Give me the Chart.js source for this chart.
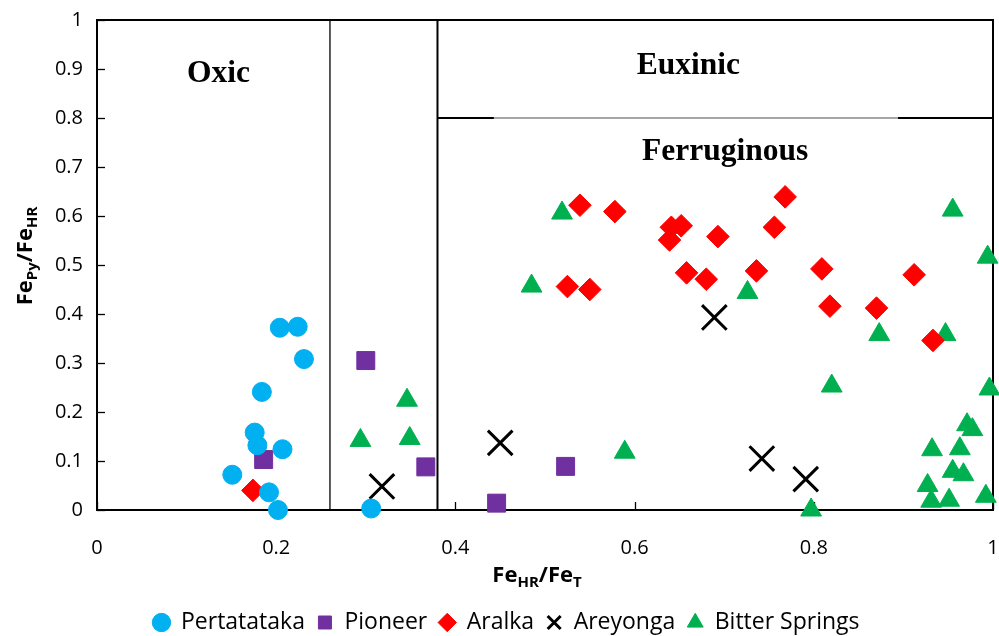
<!DOCTYPE html>
<html><head><meta charset="utf-8">
<script src="https://cdn.jsdelivr.net/npm/chart.js@4.4.1/dist/chart.umd.min.js"></script>
<style>html,body{margin:0;padding:0;background:#fff;}#wrap{width:999px;height:636px;}</style>
</head><body><div id="wrap"><canvas id="c" width="999" height="636"></canvas></div>
<script>
// ---- data ----
const seriesNames = ['Pertatataka', 'Pioneer', 'Aralka', 'Areyonga', 'Bitter Springs'];

const pertatatakaX = [0.204, 0.224, 0.231, 0.184, 0.176, 0.179, 0.207, 0.151, 0.192, 0.202, 0.306];
const pertatatakaY = [0.372, 0.374, 0.308, 0.241, 0.158, 0.132, 0.124, 0.072, 0.036, 0.000, 0.003];

const pioneerX = [0.300, 0.186, 0.367, 0.523, 0.446];
const pioneerY = [0.305, 0.103, 0.088, 0.089, 0.014];

const aralkaX = [0.174, 0.539, 0.578, 0.641, 0.652, 0.639, 0.693, 0.658, 0.680, 0.525, 0.550, 0.768, 0.756, 0.736, 0.809, 0.912, 0.818, 0.870, 0.933];
const aralkaY = [0.040, 0.622, 0.609, 0.577, 0.580, 0.551, 0.558, 0.484, 0.471, 0.456, 0.450, 0.639, 0.577, 0.488, 0.492, 0.480, 0.416, 0.412, 0.346];

const areyongaX = [0.318, 0.450, 0.689, 0.742, 0.791];
const areyongaY = [0.048, 0.137, 0.393, 0.105, 0.063];

const bitterX = [0.346, 0.294, 0.349, 0.519, 0.485, 0.589, 0.726, 0.955, 0.994, 0.873, 0.947, 0.820, 0.996, 0.971, 0.977, 0.963, 0.932, 0.955, 0.967, 0.927, 0.931, 0.951, 0.992, 0.797];
const bitterY = [0.224, 0.142, 0.146, 0.606, 0.457, 0.118, 0.444, 0.612, 0.516, 0.358, 0.358, 0.253, 0.247, 0.174, 0.164, 0.125, 0.123, 0.079, 0.072, 0.050, 0.018, 0.020, 0.028, 0.000];

const xTickValues = [0, 0.2, 0.4, 0.6, 0.8, 1];
const yTickValues = [0, 0.1, 0.2, 0.3, 0.4, 0.5, 0.6, 0.7, 0.8, 0.9, 1];
const xTickLabels = ['0', '0.2', '0.4', '0.6', '0.8', '1'];
const yTickLabels = ['0', '0.1', '0.2', '0.3', '0.4', '0.5', '0.6', '0.7', '0.8', '0.9', '1'];

// region thresholds (data units)
const oxicLimit = 0.26;
const anoxicLimit = 0.38;
const euxinicLimit = 0.8;
const regionNames = ['Oxic', 'Euxinic', 'Ferruginous'];

const xTitleParts = ['Fe', 'HR', '/Fe', 'T'];
const yTitleParts = ['Fe', 'Py', '/Fe', 'HR'];

// ---- build ----
function pts(xs, ys) { return xs.map((x, i) => ({x: x, y: ys[i]})); }

const FONT = "'Open Sans', sans-serif";
const regionLabelPos = [[0.1355, 0.873], [0.660, 0.890], [0.701, 0.714]];

function drawSubText(ctx, parts, cx, baseline) {
  const mainFont = 'bold 22px ' + FONT;
  const subFont = 'bold 15px ' + FONT;
  let total = 0;
  const widths = parts.map((p, i) => {
    ctx.font = (i % 2 === 1) ? subFont : mainFont;
    const w = ctx.measureText(p).width;
    total += w;
    return w;
  });
  let x = cx - total / 2;
  ctx.textAlign = 'left';
  ctx.textBaseline = 'alphabetic';
  parts.forEach((p, i) => {
    const sub = i % 2 === 1;
    ctx.font = sub ? subFont : mainFont;
    ctx.fillText(p, x, baseline + (sub ? 5 : 0));
    x += widths[i];
  });
}

const decorPlugin = {
  id: 'decor',
  beforeDatasetsDraw(chart) {
    const {ctx, chartArea: a, scales: {x, y}} = chart;
    ctx.save();
    ctx.strokeStyle = '#000';
    ctx.lineCap = 'butt';
    // frame top and right
    ctx.lineWidth = 2;
    ctx.beginPath();
    ctx.moveTo(a.left, a.top); ctx.lineTo(a.right, a.top); ctx.lineTo(a.right, a.bottom);
    ctx.stroke();
    // oxic boundary
    const xo = x.getPixelForValue(oxicLimit);
    ctx.lineWidth = 1.3;
    ctx.beginPath(); ctx.moveTo(xo, a.bottom); ctx.lineTo(xo, a.top); ctx.stroke();
    // anoxic boundary
    const xa = x.getPixelForValue(anoxicLimit);
    ctx.lineWidth = 2;
    ctx.beginPath(); ctx.moveTo(xa, a.bottom); ctx.lineTo(xa, a.top); ctx.stroke();
    // euxinic boundary
    const ye = y.getPixelForValue(euxinicLimit);
    const g1 = x.getPixelForValue(0.443), g2 = x.getPixelForValue(0.894);
    ctx.lineWidth = 2;
    ctx.beginPath(); ctx.moveTo(xa, ye); ctx.lineTo(g1, ye); ctx.stroke();
    ctx.beginPath(); ctx.moveTo(g2, ye); ctx.lineTo(a.right, ye); ctx.stroke();
    ctx.strokeStyle = '#a6a6a6';
    ctx.beginPath(); ctx.moveTo(g1, ye); ctx.lineTo(g2, ye); ctx.stroke();
    // inward tick marks
    ctx.strokeStyle = '#000';
    ctx.lineWidth = 1.3;
    yTickValues.forEach(v => {
      const py = Math.round(y.getPixelForValue(v)) + 0.5;
      ctx.beginPath(); ctx.moveTo(a.left, py); ctx.lineTo(a.left + 8, py); ctx.stroke();
    });
    xTickValues.forEach(v => {
      const px = Math.round(x.getPixelForValue(v)) + 0.5;
      ctx.beginPath(); ctx.moveTo(px, a.bottom); ctx.lineTo(px, a.bottom - 8); ctx.stroke();
    });
    // region labels
    ctx.fillStyle = '#000';
    ctx.font = "bold 31.5px 'Liberation Serif', 'Times New Roman', serif";
    ctx.textAlign = 'center';
    ctx.textBaseline = 'alphabetic';
    regionNames.forEach((n, i) => {
      ctx.fillText(n, x.getPixelForValue(regionLabelPos[i][0]), y.getPixelForValue(regionLabelPos[i][1]));
    });
    ctx.restore();
  },
  afterDraw(chart) {
    const {ctx, chartArea: a} = chart;
    ctx.save();
    ctx.fillStyle = '#000';
    drawSubText(ctx, xTitleParts, (a.left + a.right) / 2 - 8, a.bottom + 72);
    ctx.translate(32, (a.top + a.bottom) / 2 - 9);
    ctx.rotate(-Math.PI / 2);
    drawSubText(ctx, yTitleParts, 0, 0);
    ctx.restore();
  }
};

const colors = ['#00B0F0', '#7030A0', '#FF0000', '#000000', '#00B050'];
const styles = ['circle', 'rect', 'rectRot', 'crossRot', 'triangle'];
const radii = [9.5, 12.7, 11.3, 17.4, 12];
const dataSets = [pts(pertatatakaX, pertatatakaY), pts(pioneerX, pioneerY), pts(aralkaX, aralkaY), pts(areyongaX, areyongaY), pts(bitterX, bitterY)];

const datasets = seriesNames.map((name, i) => ({
  label: name,
  data: dataSets[i],
  pointStyle: styles[i],
  pointRadius: radii[i],
  pointHoverRadius: radii[i],
  backgroundColor: colors[i],
  borderColor: colors[i],
  borderWidth: i === 3 ? 3 : 1,
  clip: false
}));

new Chart(document.getElementById('c'), {
  type: 'scatter',
  data: {datasets},
  plugins: [decorPlugin],
  options: {
    responsive: false,
    devicePixelRatio: 1,
    animation: false,
    layout: {autoPadding: false, padding: {top: 20, right: 6, left: 20, bottom: -8}},
    plugins: {
      legend: {
        position: 'bottom',
        labels: {
          usePointStyle: true,
          boxHeight: 13,
          boxWidth: 16,
          padding: 12,
          color: '#000',
          font: {family: FONT, size: 23}
        }
      },
      tooltip: {enabled: false}
    },
    scales: {
      x: {
        type: 'linear', min: 0, max: 1,
        afterBuildTicks(s) { s.ticks = xTickValues.map(v => ({value: v})); },
        afterFit(s) {
          const lh = s.chart.legend ? s.chart.legend.height : 42;
          s.height = 636 + 8 - 510 - lh;
          s.paddingLeft = 0; s.paddingRight = 0; s.paddingTop = 0; s.paddingBottom = 0;
        },
        grid: {display: false, drawTicks: false},
        border: {display: true, color: '#000', width: 2},
        ticks: {
          padding: 26, color: '#000', font: {family: FONT, size: 20},
          callback: (v) => xTickLabels[xTickValues.indexOf(Math.round(v * 10) / 10)]
        }
      },
      y: {
        type: 'linear', min: 0, max: 1,
        afterBuildTicks(s) { s.ticks = yTickValues.map(v => ({value: v})); },
        afterFit(s) {
          s.width = 77;
          s.paddingLeft = 0; s.paddingRight = 0; s.paddingTop = 0; s.paddingBottom = 0;
        },
        grid: {display: false, drawTicks: false},
        border: {display: true, color: '#000', width: 2},
        ticks: {
          padding: 14, color: '#000', font: {family: FONT, size: 20},
          callback: (v) => yTickLabels[yTickValues.indexOf(Math.round(v * 10) / 10)]
        }
      }
    }
  }
});
</script></body></html>
